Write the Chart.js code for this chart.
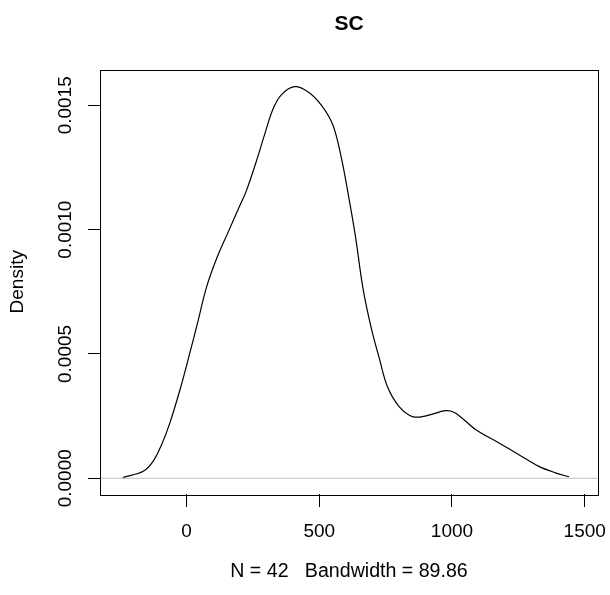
<!DOCTYPE html>
<html>
<head>
<meta charset="utf-8">
<script src="https://cdn.jsdelivr.net/npm/chart.js@4"></script>
<style>
  html, body { margin: 0; padding: 0; background: #fff; overflow: hidden; }
  #wrap { position: relative; width: 610px; height: 595px; }
</style>
</head>
<body>
<div id="wrap"><canvas id="density-chart"></canvas></div>
<script>
  // Density estimate (x in data units, y = density).
  var densityX = [-240, -163, -126, -94, -63, -25, 12, 44, 75, 113, 156, 200, 225, 263, 294, 325,
    357, 407, 457, 507, 551, 582, 607, 636, 664, 695, 726, 757, 801, 851, 902, 977, 1014, 1090,
    1177, 1252, 1327, 1390, 1441];
  var densityY = [0.000003, 0.000028, 0.000068, 0.000135, 0.000222, 0.000355, 0.000502, 0.000635,
    0.000768, 0.000883, 0.000988, 0.001095, 0.001155, 0.001275, 0.001382, 0.001483, 0.001542,
    0.001575, 0.001555, 0.001502, 0.001422, 0.001295, 0.001155, 0.000975, 0.000768, 0.000608,
    0.000483, 0.000368, 0.000288, 0.000248, 0.000251, 0.000272, 0.000262, 0.000195, 0.000142,
    0.000095, 0.000048, 0.000022, 0.000006];

  var xTicks = [0, 500, 1000, 1500];
  var yTicks = [0, 0.0005, 0.001, 0.0015];
  var yTickLabels = ['0.0000', '0.0005', '0.0010', '0.0015'];

  var xLimits = [-326, 1550];
  var yLimits = [-0.0000632, 0.001644];

  var FONT = '"Liberation Sans", Arial, Helvetica, sans-serif';

  var curve = densityX.map(function (x, i) { return { x: x, y: densityY[i] }; });
  var zeroLine = [{ x: xLimits[0], y: 0 }, { x: xLimits[1], y: 0 }];

  // Box round the plot region, rotated y tick labels and the main title
  // centred over the plot region (R style).
  var rPlotFrame = {
    id: 'rPlotFrame',
    afterDraw: function (chart) {
      var ctx = chart.ctx;
      var area = chart.chartArea;
      var yScale = chart.scales.y;
      ctx.save();
      ctx.strokeStyle = '#000';
      ctx.lineWidth = 1;
      ctx.strokeRect(Math.round(area.left) + 0.5, Math.round(area.top) + 0.5,
        Math.round(area.right - area.left), Math.round(area.bottom - area.top));

      ctx.fillStyle = '#000';
      ctx.font = '19px ' + FONT;
      ctx.textAlign = 'center';
      ctx.textBaseline = 'middle';
      yTicks.forEach(function (v, i) {
        var py = yScale.getPixelForValue(v);
        ctx.save();
        ctx.translate(area.left - 34, py);
        ctx.rotate(-Math.PI / 2);
        ctx.fillText(yTickLabels[i], 0, 0);
        ctx.restore();
      });

      ctx.font = 'bold 21px ' + FONT;
      ctx.fillText('SC', (area.left + area.right) / 2, 24);
      ctx.restore();
    }
  };

  new Chart(document.getElementById('density-chart'), {
    type: 'line',
    data: {
      datasets: [
        {
          label: 'zero',
          data: zeroLine,
          borderColor: '#bebebe',
          borderWidth: 1,
          pointRadius: 0,
          order: 2
        },
        {
          label: 'SC',
          data: curve,
          borderColor: '#000',
          borderWidth: 1.2,
          pointRadius: 0,
          tension: 0.35,
          fill: false,
          order: 1
        }
      ]
    },
    options: {
      responsive: true,
      maintainAspectRatio: false,
      animation: false,
      events: [],
      layout: { padding: { left: 0, right: 12, top: 69.5, bottom: 0 } },
      scales: {
        x: {
          type: 'linear',
          min: xLimits[0],
          max: xLimits[1],
          afterBuildTicks: function (scale) {
            scale.ticks = xTicks.map(function (v) { return { value: v }; });
          },
          afterFit: function (scale) {
            scale.height = 101;
            scale.paddingLeft = 0;
            scale.paddingRight = 0;
          },
          grid: {
            display: true,
            drawOnChartArea: false,
            drawTicks: true,
            tickLength: 13,
            color: '#000',
            lineWidth: 1
          },
          border: { display: false },
          ticks: {
            color: '#000',
            padding: 13.6,
            maxRotation: 0,
            font: { family: FONT, size: 19 },
            callback: function (v) { return String(v); }
          },
          title: {
            display: true,
            text: 'N = 42   Bandwidth = 89.86',
            color: '#000',
            font: { family: FONT, size: 19.6 },
            padding: { top: 0, bottom: 12 }
          }
        },
        y: {
          type: 'linear',
          min: yLimits[0],
          max: yLimits[1],
          afterBuildTicks: function (scale) {
            scale.ticks = yTicks.map(function (v) { return { value: v }; });
          },
          afterFit: function (scale) {
            scale.width = 100;
            scale.paddingTop = 0;
            scale.paddingBottom = 0;
          },
          grid: {
            display: true,
            drawOnChartArea: false,
            drawTicks: true,
            tickLength: 12,
            color: '#000',
            lineWidth: 1
          },
          border: { display: false },
          ticks: { display: false },
          title: {
            display: true,
            text: 'Density',
            color: '#000',
            font: { family: FONT, size: 19 },
            padding: { top: 6.6, bottom: 0 }
          }
        }
      },
      plugins: {
        legend: { display: false },
        tooltip: { enabled: false },
        title: { display: false }
      }
    },
    plugins: [rPlotFrame]
  });
</script>
</body>
</html>
